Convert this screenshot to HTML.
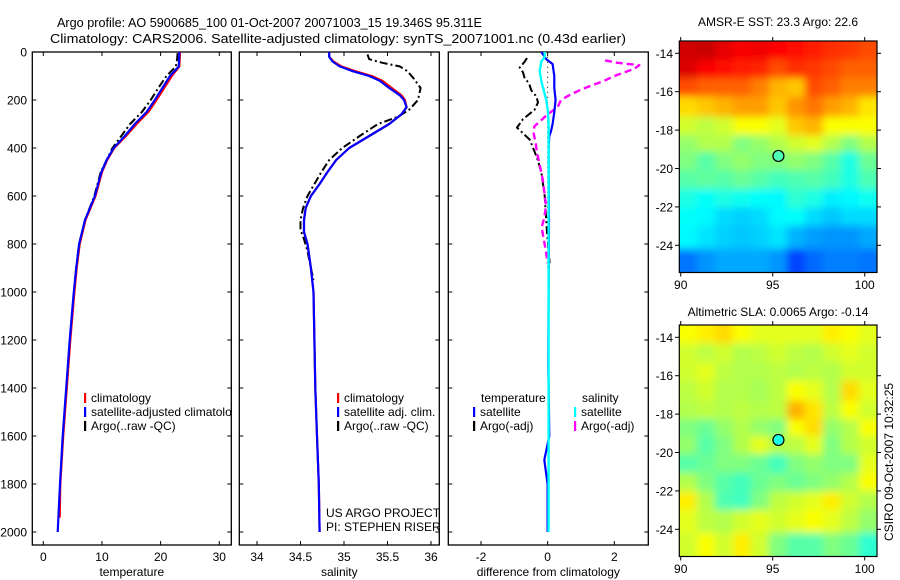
<!DOCTYPE html>
<html><head><meta charset="utf-8"><style>
html,body{margin:0;padding:0;background:#fff;}
svg{display:block;font-family:"Liberation Sans",sans-serif;}
</style></head><body>
<svg id="fig" width="900" height="580" viewBox="0 0 900 580" xmlns="http://www.w3.org/2000/svg">
<defs>
<clipPath id="cp1"><rect x="32.3" y="52" width="199" height="493"/></clipPath>
<clipPath id="cp2"><rect x="239.3" y="52" width="200" height="493"/></clipPath>
<clipPath id="cp3"><rect x="448.3" y="52" width="200" height="493"/></clipPath>
<clipPath id="cpm1"><rect x="679.3" y="41" width="197.7" height="231"/></clipPath>
<clipPath id="cpm2"><rect x="679.3" y="325" width="197.7" height="231.7"/></clipPath>
<filter id="blur" x="-5%" y="-5%" width="110%" height="110%"><feGaussianBlur stdDeviation="4"/></filter>
</defs>
<text x="57" y="27" font-size="13" textLength="425" lengthAdjust="spacingAndGlyphs">Argo profile: AO 5900685_100 01-Oct-2007 20071003_15 19.346S 95.311E</text>
<text x="50" y="43" font-size="13" textLength="576" lengthAdjust="spacingAndGlyphs">Climatology: CARS2006. Satellite-adjusted climatology: synTS_20071001.nc (0.43d earlier)</text>
<text x="778" y="26" font-size="12" text-anchor="middle">AMSR-E SST: 23.3 Argo: 22.6</text>
<text x="778" y="316" font-size="12" text-anchor="middle">Altimetric SLA: 0.0065 Argo: -0.14</text>
<text transform="translate(893,462) rotate(-90)" font-size="12" text-anchor="middle">CSIRO 09-Oct-2007 10:32:25</text>
<g id="layer"></g>
</svg>
<script>
// ---------- data ----------
const depthTicks = [0,200,400,600,800,1000,1200,1400,1600,1800,2000];
const tempTicks = [0,10,20,30];
const salTicks = [34,34.5,35,35.5,36];
const salTickLabels = ["34","34.5","35","35.5","36"];
const diffTicks = [-2,0,2];
const lonTicks = [90,95,100];
const latTicks = [-14,-16,-18,-20,-22,-24];

const climDepth = [0,60,100,150,200,250,300,350,400,450,500,600,700,800,900,1000,1200,1400,1600,1800,1940];
const climTemp  = [23.3,23.2,21.9,20.6,19.3,17.9,15.9,14.1,12.1,10.9,10.0,8.9,7.2,6.2,5.7,5.3,4.6,4.0,3.4,2.9,2.8];
const satDepth  = [0,60,100,150,200,250,300,350,400,450,500,600,700,800,900,1000,1200,1400,1600,1800,2000];
const satTemp   = [23.2,23.1,21.6,20.3,19.0,17.6,15.6,13.9,12.0,10.8,9.9,8.8,7.1,6.1,5.6,5.2,4.5,3.9,3.3,2.85,2.45];
const argoDepth = [5,30,60,100,150,200,250,300,350,400,500,600,700,800,900,950];
const argoTemp  = [22.9,22.8,22.6,21.0,19.6,18.3,16.8,14.8,13.3,11.8,9.8,8.7,7.1,6.1,5.6,5.4];

const salDepth  = [0,20,40,60,80,100,120,150,180,200,230,260,300,350,400,450,500,550,600,650,700,750,800,900,1000,1400,1600,1800,2000];
const climSal   = [34.83,34.83,34.88,34.97,35.13,35.32,35.44,35.55,35.66,35.70,35.72,35.66,35.52,35.29,35.06,34.91,34.81,34.72,34.62,34.56,34.54,34.54,34.58,34.62,34.65,34.67,34.69,34.71,34.72];
const satSal    = [34.83,34.83,34.87,34.95,35.10,35.29,35.41,35.52,35.64,35.69,35.72,35.66,35.52,35.29,35.06,34.91,34.81,34.72,34.62,34.56,34.54,34.54,34.58,34.62,34.65,34.67,34.69,34.71,34.72];
const argoSalDepth = [10,30,45,60,80,110,150,200,240,270,300,350,400,450,500,550,600,650,700,740,780,830,900,950];
const argoSal   = [35.27,35.29,35.44,35.64,35.73,35.80,35.88,35.85,35.75,35.62,35.39,35.18,34.98,34.83,34.74,34.66,34.58,34.53,34.50,34.50,34.54,34.58,34.62,34.65];

const dTempSatDepth = [0,30,50,100,150,200,250,300,330,350,400,500,700,1000,1300,1600,1700,1800,2000];
const dTempSat      = [-0.19,-0.04,0.15,0.20,0.20,0.24,0.20,0.15,0.10,0.05,0.03,0.03,0.04,0.03,0.02,0.05,-0.1,0.0,0.0];
const dSalSatDepth  = [0,20,40,80,120,160,200,250,300,500,1000,1500,2000];
const dSalSat       = [-0.09,-0.09,-0.19,-0.24,-0.19,-0.12,-0.04,0.01,0.03,0.03,0.03,0.03,0.03];
const dTempArgoDepth = [25,40,65,85,110,130,160,185,210,240,280,315,365,440,500,600,750,880];
const dTempArgo      = [-0.62,-0.69,-0.84,-0.74,-0.69,-0.56,-0.49,-0.34,-0.29,-0.39,-0.74,-0.92,-0.54,-0.32,-0.19,-0.09,-0.02,0.06];
const dSalArgoDepth  = [35,45,55,70,85,100,120,140,160,180,200,230,260,285,310,340,380,420,470,530,580,640,690,730,780,830,880];
const dSalArgo       = [1.72,2.1,2.75,2.6,2.3,2.0,1.7,1.3,0.95,0.65,0.4,0.3,0.0,-0.2,-0.4,-0.42,-0.36,-0.32,-0.24,-0.15,-0.1,-0.05,-0.1,-0.18,-0.12,-0.05,0.0];

const mapLon = [90.39,91.37,92.35,93.33,94.30,95.28,96.26,97.24,98.22,99.19,100.17];
const mapLat = [-13.84,-14.80,-15.77,-16.73,-17.89,-18.65,-19.61,-20.58,-21.54,-22.50,-23.46,-24.91];
const sstGrid = [
[0.92,0.93,0.90,0.88,0.89,0.87,0.86,0.85,0.83,0.82,0.80],
[0.91,0.88,0.86,0.85,0.84,0.80,0.83,0.82,0.80,0.78,0.78],
[0.80,0.78,0.78,0.78,0.75,0.70,0.68,0.80,0.78,0.75,0.75],
[0.66,0.68,0.70,0.72,0.72,0.68,0.73,0.76,0.72,0.70,0.65],
[0.58,0.56,0.58,0.62,0.62,0.60,0.68,0.70,0.62,0.62,0.62],
[0.52,0.55,0.55,0.50,0.52,0.55,0.58,0.60,0.55,0.50,0.55],
[0.50,0.46,0.50,0.52,0.50,0.50,0.52,0.50,0.46,0.40,0.48],
[0.46,0.47,0.46,0.48,0.46,0.44,0.45,0.46,0.44,0.40,0.45],
[0.40,0.38,0.40,0.39,0.38,0.37,0.42,0.40,0.36,0.37,0.39],
[0.38,0.37,0.34,0.33,0.34,0.37,0.38,0.34,0.32,0.34,0.34],
[0.37,0.35,0.33,0.32,0.33,0.35,0.30,0.28,0.27,0.27,0.29],
[0.24,0.27,0.29,0.29,0.29,0.27,0.19,0.23,0.25,0.25,0.24]];
const slaGrid = [
[0.62,0.64,0.66,0.62,0.60,0.60,0.60,0.60,0.64,0.62,0.60],
[0.58,0.56,0.58,0.55,0.56,0.58,0.56,0.55,0.58,0.60,0.58],
[0.58,0.60,0.56,0.55,0.55,0.56,0.55,0.56,0.55,0.58,0.58],
[0.56,0.58,0.55,0.55,0.54,0.56,0.62,0.60,0.55,0.66,0.60],
[0.55,0.56,0.55,0.56,0.55,0.56,0.70,0.65,0.56,0.62,0.58],
[0.50,0.48,0.52,0.55,0.52,0.50,0.62,0.66,0.52,0.55,0.62],
[0.52,0.46,0.50,0.55,0.60,0.55,0.56,0.60,0.50,0.55,0.58],
[0.46,0.48,0.50,0.50,0.48,0.44,0.50,0.52,0.50,0.50,0.60],
[0.55,0.50,0.46,0.44,0.48,0.50,0.48,0.50,0.52,0.55,0.62],
[0.64,0.55,0.45,0.44,0.50,0.56,0.58,0.60,0.64,0.58,0.55],
[0.60,0.56,0.55,0.58,0.60,0.58,0.60,0.62,0.60,0.56,0.52],
[0.58,0.62,0.58,0.64,0.58,0.50,0.46,0.46,0.50,0.48,0.42]];
const argoLon = 95.311;
const argoLat = -19.346;
const argoSstVal = 0.45;
const argoSlaVal = 0.40;

// ---------- helpers ----------
const NS = "http://www.w3.org/2000/svg";
const layer = document.getElementById('layer');
function mk(tag, attrs, parent){
  const e = document.createElementNS(NS, tag);
  for (const k in attrs) e.setAttribute(k, attrs[k]);
  (parent||layer).appendChild(e);
  return e;
}
function lin(d0,d1,r0,r1){ return v => r0 + (v-d0)/(d1-d0)*(r1-r0); }
function jet(v){
  const c = x => Math.max(0, Math.min(1, x));
  const r = c(1.5-Math.abs(4*v-3)), g = c(1.5-Math.abs(4*v-2)), b = c(1.5-Math.abs(4*v-1));
  return `rgb(${Math.round(r*255)},${Math.round(g*255)},${Math.round(b*255)})`;
}
const yDepth = lin(0,2000,52,532);

function panel(name, x0, x1, xs, ticks, labels, xlabel, clip){
  const g = mk('g', {});
  
  
  const box = mk('rect', {x:x0, y:52, width:x1-x0, height:493, fill:'#fff', stroke:'#000', 'stroke-width':1.3}, g);
  
  
  depthTicks.forEach(d => {
    const y = yDepth(d);
    mk('line', {x1:x0, x2:x0+4, y1:y, y2:y, stroke:'#000'}, g);
    mk('line', {x1:x1-4, x2:x1, y1:y, y2:y, stroke:'#000'}, g);
  });
  ticks.forEach((t,i) => {
    const x = xs(t);
    mk('line', {x1:x, x2:x, y1:545, y2:541, stroke:'#000'}, g);
    mk('line', {x1:x, x2:x, y1:52, y2:56, stroke:'#000'}, g);
    const tl = mk('text', {x:x, y:561, 'font-size':12, 'text-anchor':'middle'}, g);
    tl.textContent = labels[i];
    
    
  });
  const xl = mk('text', {x:(x0+x1)/2, y:576, 'font-size':12, 'text-anchor':'middle'}, g);
  xl.textContent = xlabel;
  
  
  const inner = mk('g', {'clip-path':`url(#${clip})`}, g);
  return inner;
}
function line(parent, xs, depths, vals, color, w, dash, name){
  const pts = depths.map((d,i) => xs(vals[i]).toFixed(1)+','+yDepth(d).toFixed(1)).join(' ');
  const p = mk('polyline', {points:pts, fill:'none', stroke:color, 'stroke-width':w, 'stroke-linejoin':'round'}, parent);
  if (dash) p.setAttribute('stroke-dasharray', dash);
  
  
}
function legend(x, y, color, label, parent){
  mk('rect', {x:x, y:y-9, width:2.2, height:10, fill:color}, parent);
  const t = mk('text', {x:x+7, y:y, 'font-size':12}, parent);
  t.textContent = label;
  
  
}

// depth labels
depthTicks.forEach(d => {
  const t = mk('text', {x:27, y:yDepth(d)+4.5, 'font-size':12, 'text-anchor':'end'});
  t.textContent = String(d);
  
  
});

// panel 1 temperature
const xT = lin(0,30,43.3,219.3);
const p1 = panel('temperature-panel', 32.3, 231.3, xT, tempTicks, tempTicks.map(String), 'temperature', 'cp1');
line(p1, xT, argoDepth, argoTemp, '#000', 2, '8,3,2,3', 'argo-temperature-line');
line(p1, xT, climDepth, climTemp, '#f00', 2.2, null, 'climatology-temperature-line');
line(p1, xT, satDepth, satTemp, '#00f', 2.2, null, 'satellite-temperature-line');
legend(84, 402, '#f00', 'climatology', p1);
legend(84, 416, '#00f', 'satellite-adjusted climatology', p1);
legend(84, 430, '#000', 'Argo(..raw -QC)', p1);

// panel 2 salinity
const xS = lin(34,36,257,431);
const p2 = panel('salinity-panel', 239.3, 439.3, xS, salTicks, salTickLabels, 'salinity', 'cp2');
line(p2, xS, argoSalDepth, argoSal, '#000', 2, '8,3,2,3', 'argo-salinity-line');
line(p2, xS, salDepth, climSal, '#f00', 2.2, null, 'climatology-salinity-line');
line(p2, xS, salDepth, satSal, '#00f', 2.2, null, 'satellite-salinity-line');
legend(337, 402, '#f00', 'climatology', p2);
legend(337, 416, '#00f', 'satellite adj. clim.', p2);
legend(337, 430, '#000', 'Argo(..raw -QC)', p2);
[['US ARGO PROJECT',517],['PI: STEPHEN RISER',531]].forEach(a => {
  const t = mk('text', {x:326, y:a[1], 'font-size':12}, p2);
  t.textContent = a[0];
  
  
});

// panel 3 differences
const xD = lin(-2,2,481,614.3);
const p3 = panel('difference-panel', 448.3, 648.3, xD, diffTicks, diffTicks.map(String), 'difference from climatology', 'cp3');
mk('line', {x1:xD(0), x2:xD(0), y1:yDepth(20), y2:yDepth(900), stroke:'#000', 'stroke-width':1, 'stroke-dasharray':'1,4'}, p3);
line(p3, xD, dTempArgoDepth, dTempArgo, '#000', 2, '8,3,2,3', 'argo-temperature-difference');
line(p3, xD, dSalArgoDepth, dSalArgo, '#f0f', 2.4, '7,4', 'argo-salinity-difference');
line(p3, xD, dTempSatDepth, dTempSat, '#00f', 2.2, null, 'satellite-temperature-difference');
line(p3, xD, dSalSatDepth, dSalSat, '#0ff', 2.4, null, 'satellite-salinity-difference');
[['temperature',481],['salinity',582]].forEach(a => {
  const t = mk('text', {x:a[1], y:402, 'font-size':12}, p3);
  t.textContent = a[0];
  
  
});
legend(473, 416, '#00f', 'satellite', p3);
legend(473, 430, '#000', 'Argo(-adj)', p3);
legend(574, 416, '#0ff', 'satellite', p3);
legend(574, 430, '#f0f', 'Argo(-adj)', p3);

// maps
const xLon = lin(90,100,680.7,864.7);
function map(name, top, latAt14, grid, clip, dotVal, labelY){
  const yLat = lin(-14,-24,latAt14,latAt14+192);
  const g = mk('g', {});
  
  
  const cells = mk('g', {'clip-path':`url(#${clip})`}, g);
  const blurG = mk('g', {filter:'url(#blur)'}, cells);
  const dlon = mapLon[1]-mapLon[0];
  mapLat.forEach((lat,r) => {
    const latTop = r===0 ? lat+0.6 : (lat+mapLat[r-1])/2;
    const latBot = r===mapLat.length-1 ? lat-0.6 : (lat+mapLat[r+1])/2;
    mapLon.forEach((lon,c) => {
      const x0 = xLon(lon-dlon/2-(c===0?0.6:0)), x1 = xLon(lon+dlon/2+(c===mapLon.length-1?0.6:0));
      const y0 = yLat(latTop+(r===0?0.6:0)), y1 = yLat(latBot-(r===mapLat.length-1?0.6:0));
      const cell = mk('rect', {x:x0, y:y0, width:x1-x0+0.5, height:y1-y0+0.5, fill:jet(grid[r][c])}, blurG);
      
      
    });
  });
  const h = 231.5;
  const fr = mk('rect', {x:679.3, y:top, width:197.7, height:h, fill:'none', stroke:'#000', 'stroke-width':1.2}, g);
  
  
  lonTicks.forEach(l => {
    const x = xLon(l);
    mk('line', {x1:x, x2:x, y1:top+h, y2:top+h+4, stroke:'#000'}, g);
    mk('line', {x1:x, x2:x, y1:top, y2:top-4, stroke:'#000'}, g);
    const t = mk('text', {x:x, y:labelY, 'font-size':12, 'text-anchor':'middle'}, g);
    t.textContent = String(l);
    
    
  });
  latTicks.forEach(l => {
    const y = yLat(l);
    mk('line', {x1:679.3, x2:675, y1:y, y2:y, stroke:'#000'}, g);
    mk('line', {x1:877, x2:881, y1:y, y2:y, stroke:'#000'}, g);
    const t = mk('text', {x:673, y:y+4.5, 'font-size':12, 'text-anchor':'end'}, g);
    t.textContent = String(l);
    
    
  });
  const dot = mk('circle', {cx:xLon(argoLon), cy:yLat(argoLat), r:5.5, fill:jet(dotVal), stroke:'#000', 'stroke-width':1.2}, g);
  
  
}
map('sst-map', 41, 53.3, sstGrid, 'cpm1', argoSstVal, 289);
map('sla-map', 325, 337.3, slaGrid, 'cpm2', argoSlaVal, 573);
</script>
</body></html>
